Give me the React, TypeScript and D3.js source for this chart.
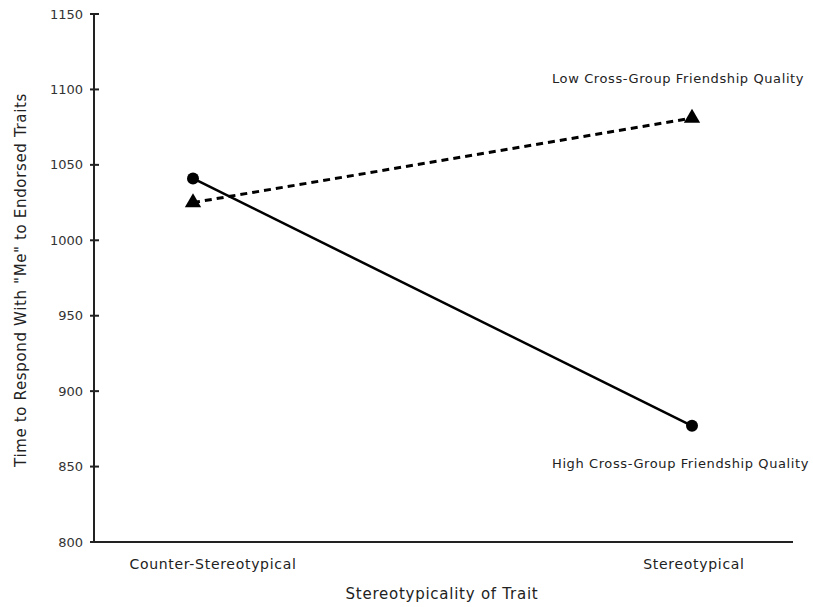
import { useEffect, useRef } from "react";
import * as d3 from "d3";

// values
const categories = ["Counter-Stereotypical", "Stereotypical"];
const lowQuality = [1025, 1081];
const highQuality = [1041, 877];
const yTicks = [800, 850, 900, 950, 1000, 1050, 1100, 1150];
const seriesLabels = ["Low Cross-Group Friendship Quality", "High Cross-Group Friendship Quality"];

const FONT = "DejaVu Sans, Verdana, sans-serif";

export default function App() {
  const ref = useRef<SVGSVGElement>(null);

  useEffect(() => {
    const svg = d3.select(ref.current);
    svg.selectAll("*").remove();

    const x = d3.scalePoint<string>().domain(categories).range([193, 692]);
    const y = d3.scaleLinear().domain([800, 1150]).range([542, 14]);

    // y axis
    svg
      .append("line")
      .attr("x1", 94)
      .attr("x2", 94)
      .attr("y1", y(1150))
      .attr("y2", y(800))
      .attr("stroke", "#222")
      .attr("stroke-width", 2);
    // x axis
    svg
      .append("line")
      .attr("x1", 93)
      .attr("x2", 793)
      .attr("y1", y(800))
      .attr("y2", y(800))
      .attr("stroke", "#222")
      .attr("stroke-width", 2);

    const ticks = svg.append("g");
    ticks
      .selectAll("line")
      .data(yTicks)
      .enter()
      .append("line")
      .attr("x1", 90)
      .attr("x2", 99)
      .attr("y1", (d) => y(d))
      .attr("y2", (d) => y(d))
      .attr("stroke", "#222")
      .attr("stroke-width", 2);
    ticks
      .selectAll("text")
      .data(yTicks)
      .enter()
      .append("text")
      .attr("x", 83)
      .attr("y", (d) => y(d))
      .attr("dy", "0.35em")
      .attr("text-anchor", "end")
      .style("font-family", FONT)
      .style("font-size", "13px")
      .attr("fill", "#333")
      .text((d) => d);

    // category labels
    svg
      .selectAll(".cat")
      .data(categories)
      .enter()
      .append("text")
      .attr("class", "cat")
      .attr("x", (d, i) => x(d)! + (i === 0 ? 20 : 2))
      .attr("y", 569)
      .attr("text-anchor", "middle")
      .style("font-family", FONT)
      .style("font-size", "14px")
      .style("letter-spacing", "0.7px")
      .attr("fill", "#222")
      .text((d) => d);

    const line = d3
      .line<number>()
      .x((d, i) => x(categories[i])!)
      .y((d) => y(d));

    svg
      .append("path")
      .attr("d", line(lowQuality))
      .attr("fill", "none")
      .attr("stroke", "#000")
      .attr("stroke-width", 3)
      .attr("stroke-dasharray", "7,5");
    svg
      .append("path")
      .attr("d", line(highQuality))
      .attr("fill", "none")
      .attr("stroke", "#000")
      .attr("stroke-width", 2.5);

    const tri = d3.symbol().type(d3.symbolTriangle).size(115);
    svg
      .selectAll(".tri")
      .data(lowQuality)
      .enter()
      .append("path")
      .attr("class", "tri")
      .attr("d", tri)
      .attr("transform", (d, i) => `translate(${x(categories[i])},${y(d)})`)
      .attr("fill", "#000");
    svg
      .selectAll(".dot")
      .data(highQuality)
      .enter()
      .append("circle")
      .attr("class", "dot")
      .attr("cx", (d, i) => x(categories[i])!)
      .attr("cy", (d) => y(d))
      .attr("r", 6)
      .attr("fill", "#000");

    // series labels
    [83, 468].forEach((ty, i) => {
      svg
        .append("text")
        .attr("x", 552)
        .attr("y", ty)
        .style("font-family", FONT)
        .style("font-size", "13px")
        .style("letter-spacing", "0.6px")
        .attr("fill", "#222")
        .text(seriesLabels[i]);
    });

    // axis titles
    svg
      .append("text")
      .attr("x", 442)
      .attr("y", 599)
      .attr("text-anchor", "middle")
      .style("font-family", FONT)
      .style("font-size", "15px")
      .style("letter-spacing", "0.75px")
      .attr("fill", "#222")
      .text("Stereotypicality of Trait");
    svg
      .append("text")
      .attr("transform", "translate(26,280)rotate(-90)")
      .attr("text-anchor", "middle")
      .style("font-family", FONT)
      .style("font-size", "15px")
      .style("letter-spacing", "0.65px")
      .attr("fill", "#222")
      .text('Time to Respond With "Me" to Endorsed Traits');
  }, []);

  return (
    <svg
      ref={ref}
      width={813}
      height={607}
      style={{ position: "absolute", left: 0, top: 0, background: "#fff" }}
    />
  );
}
